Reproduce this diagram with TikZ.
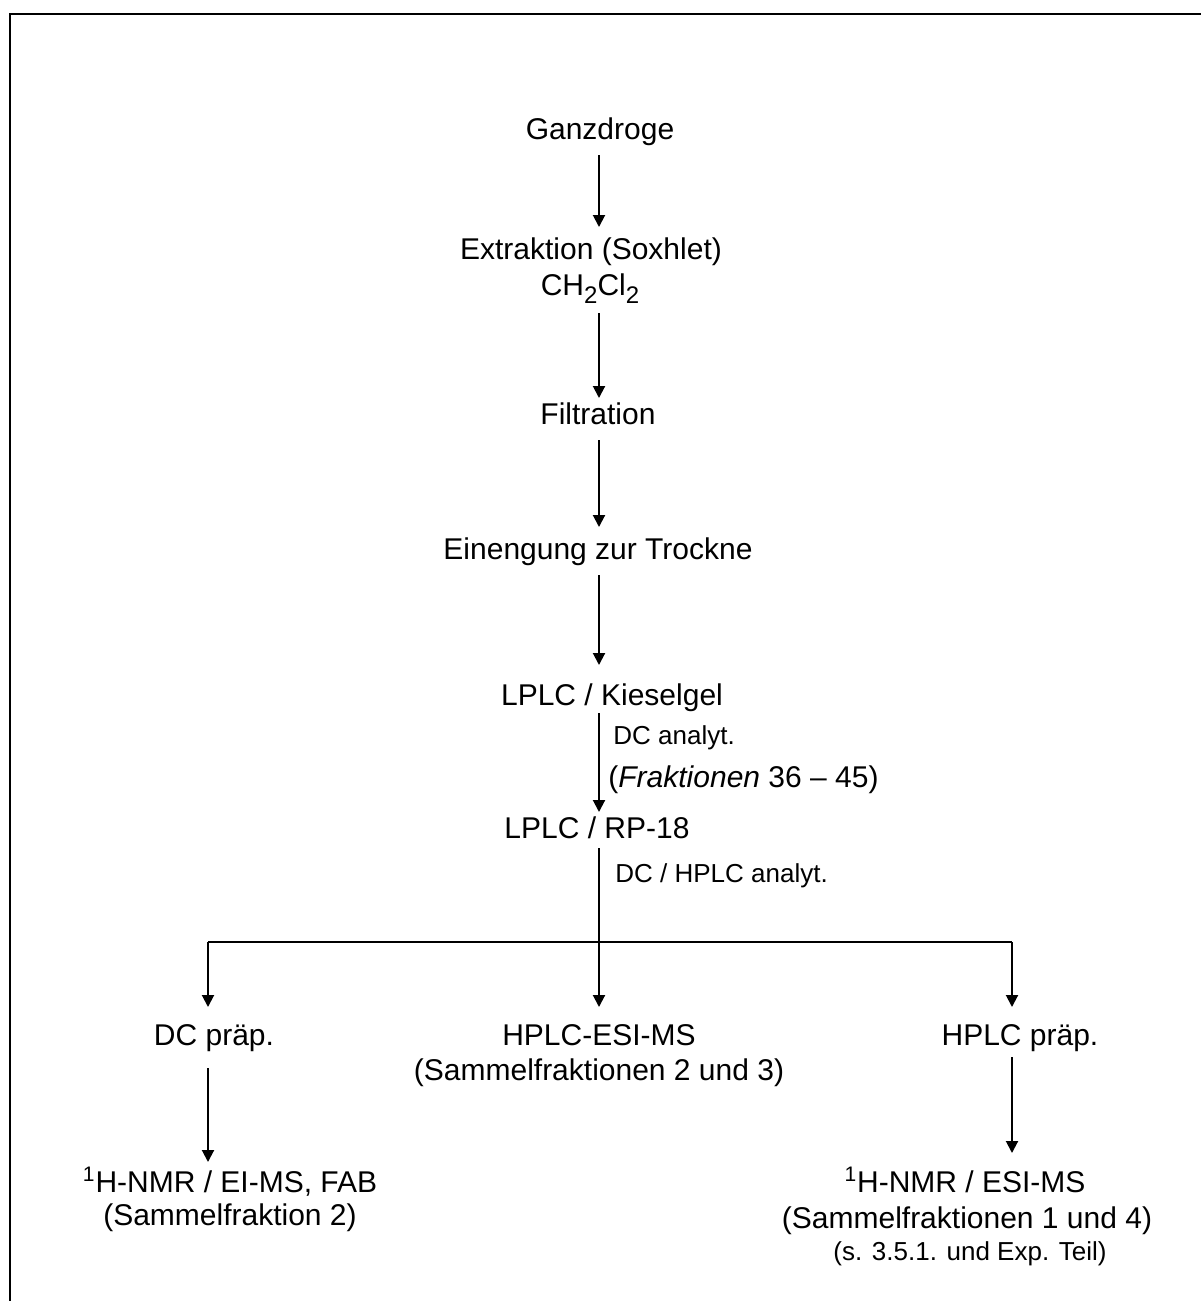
\documentclass[tikz,border=0pt]{standalone}
\usepackage{fontspec}
\setmainfont{Liberation Sans}
\usetikzlibrary{arrows.meta}
\begin{document}
\begin{tikzpicture}[x=0.5pt,y=-0.5pt,
  big/.style={anchor=base,inner sep=0pt,font=\fontsize{15}{18}\selectfont},
  small/.style={anchor=base west,inner sep=0pt,font=\fontsize{13}{15}\selectfont},
  smallc/.style={anchor=base,inner sep=0pt,font=\fontsize{13}{15}\selectfont},
  arr/.style={line width=1pt,-{Triangle[width=6pt,length=6pt]}},
  ln/.style={line width=1pt},
  frame/.style={line width=1.3pt}]
\useasboundingbox (0,0) rectangle (1200,1301);
\coordinate (fbl) at (10,1310);
\coordinate (ftl) at (10,14);
\coordinate (ftr) at (1210,14);
\draw[frame] (fbl) -- (ftl) -- (ftr);
\coordinate (col) at (599,0);
% main column
\node[big] (ganz) at (600,139) {Ganzdroge};
\node[big] (ext) at (591,259) {Extraktion (Soxhlet)};
\node[big] (ch) at (590,295) {CH{\raisebox{-0.55ex}{\fontsize{12}{14}\selectfont 2}}Cl{\raisebox{-0.55ex}{\fontsize{12}{14}\selectfont 2}}};
\node[big] (filt) at (598,424) {Filtration};
\node[big] (ein) at (598,559) {Einengung zur Trockne};
\node[big] (kies) at (612,705) {LPLC / Kieselgel};
\node[small] (dca) at (613,744) {DC analyt.};
\node[big,anchor=base west] (frak) at (608,787) {(\textit{Fraktionen} 36 -- 45)};
\node[big] (rp) at (597,838) {LPLC / RP-18};
\node[small] (dch) at (615,882) {DC / HPLC analyt.};
% branches
\node[big] (dcp) at (214,1045) {DC pr\"ap.};
\node[big] (esi) at (599,1045) {HPLC-ESI-MS};
\node[big] (esi2) at (599,1080) {(Sammelfraktionen 2 und 3)};
\node[big] (hp) at (1020,1045) {HPLC pr\"ap.};
\node[big] (nmr1) at (230,1192) {\textsuperscript{1}H-NMR / EI-MS, FAB};
\node[big] (nmr1b) at (230,1225) {(Sammelfraktion 2)};
\node[big] (nmr2) at (965,1192) {\textsuperscript{1}H-NMR / ESI-MS};
\node[big] (nmr2b) at (967,1228) {(Sammelfraktionen 1 und 4)};
\node[smallc] (nmr2c) at (970,1260) {(s. 3.5.1. und Exp. Teil)};
% arrows main column
\draw[arr] ([yshift=-8pt]ganz.base -| col) -- ([yshift=16pt]ext.base -| col);
\draw[arr] ([yshift=-9pt]ch.base -| col) -- ([yshift=13pt]filt.base -| col);
\draw[arr] ([yshift=-8pt]filt.base -| col) -- ([yshift=16pt]ein.base -| col);
\draw[arr] ([yshift=-8pt]ein.base -| col) -- ([yshift=20pt]kies.base -| col);
\draw[arr] ([yshift=-4pt]kies.base -| col) -- ([yshift=13pt]rp.base -| col);
% split
\coordinate (sl) at (208,942);
\coordinate (sr) at (1012,942);
\draw[arr] ([yshift=-5pt]rp.base -| col) -- ([yshift=19pt]esi.base -| col);
\draw[ln] (sl) -- (sr);
\draw[arr] (sl) -- ([yshift=19pt]dcp.base -| sl);
\draw[arr] (sr) -- ([yshift=19pt]hp.base -| sr);
\draw[arr] ([yshift=-11.5pt]dcp.base -| sl) -- ([yshift=15pt]nmr1.base -| sl);
\draw[arr] ([yshift=-6pt]hp.base -| sr) -- ([yshift=19.5pt]nmr2.base -| sr);
\end{tikzpicture}
\end{document}
